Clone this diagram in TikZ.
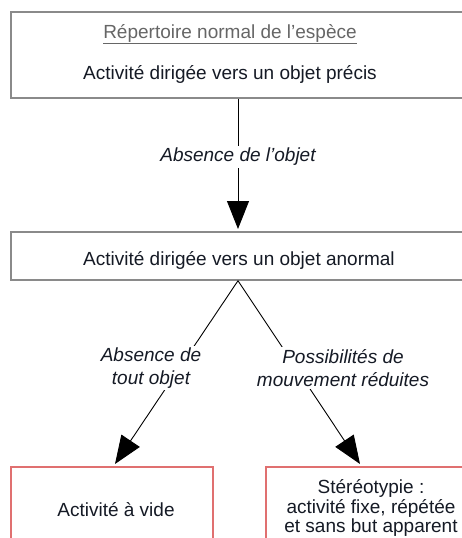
\documentclass[tikz,border=0pt]{standalone}
\usepackage{fontspec}
\setmainfont{Liberation Sans}
\usetikzlibrary{arrows.meta}
\definecolor{boxgray}{HTML}{8A8A8A}
\definecolor{boxred}{HTML}{E07070}
\definecolor{txtgray}{HTML}{666666}
\definecolor{txtdark}{HTML}{151A25}
\begin{document}
\begin{tikzpicture}[x=1pt,y=-1pt,
  graybox/.style={draw=boxgray,line width=1.4pt,fill=white,inner sep=0pt},
  redbox/.style={draw=boxred,line width=1.4pt,fill=white,inner sep=0pt},
  txt/.style={font=\fontsize{19}{19.5}\selectfont,text=txtdark,inner sep=0pt,align=center},
  lbl/.style={font=\fontsize{19}{23}\selectfont\itshape,text=txtdark,fill=white,inner sep=2pt,align=center},
  conn/.style={draw=black,line width=0.9pt,-{Triangle[length=28pt,width=22pt]}}]
\useasboundingbox (0,0) rectangle (462,538);
\clip (0,0) rectangle (462,538);
% boxes
\node[graybox,minimum width=455pt,minimum height=86pt] (top) at (238.5,55) {};
\node[graybox,minimum width=455pt,minimum height=48pt] (mid) at (238.5,256) {};
\node[redbox,minimum width=202pt,minimum height=110pt] (left) at (112,522) {};
\node[redbox,minimum width=210pt,minimum height=110pt] (right) at (371,522) {};
% texts
\node[txt,text=txtgray] (t1) at (230,34) {\underline{Répertoire normal de l’espèce}};
\node[txt] (t2) at (230,74) {Activité dirigée vers un objet précis};
\node[txt] (t3) at (239,260) {Activité dirigée vers un objet anormal};
\node[txt] (t4) at (116,510) {Activité à vide};
\node[txt] (t5) at (371,508) {Stéréotypie :\\activité fixe, répétée\\et sans but apparent};
% connectors
\coordinate (lt) at (115,464);
\coordinate (rt) at (360,464);
\coordinate (mt) at (238,229);
\draw[conn] (top.south -| mt) -- (mt);
\draw[conn] (mid.south -| mt) -- (lt);
\draw[conn] (mid.south -| mt) -- (rt);
% labels
\node[lbl] (l1) at (238,157) {Absence de l’objet};
\node[lbl] (l2) at (151,368) {Absence de\\tout objet};
\node[lbl] (l3) at (343,368) {Possibilités de\\mouvement réduites};
\end{tikzpicture}
\end{document}
